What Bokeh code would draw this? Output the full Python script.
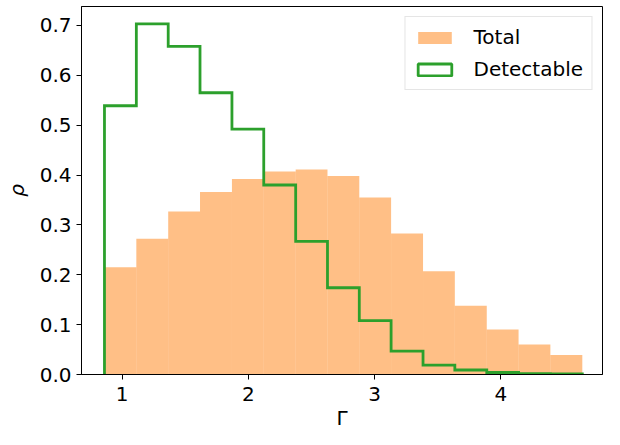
from bokeh.plotting import figure
from bokeh.models import (Legend, LegendItem, FixedTicker, NumeralTickFormatter,
                          ColumnDataSource, Range1d, Title)
from bokeh.embed import file_html
from bokeh.resources import INLINE

# Data
bin_edges = [0.860, 1.1125, 1.365, 1.617, 1.870, 2.122, 2.375, 2.627, 2.879,
             3.131, 3.384, 3.636, 3.889, 4.141, 4.393, 4.646]
total = [0.215, 0.272, 0.327, 0.366, 0.392, 0.407, 0.411, 0.398, 0.355,
         0.283, 0.207, 0.138, 0.090, 0.060, 0.039]
detectable = [0.539, 0.703, 0.658, 0.565, 0.492, 0.380, 0.267, 0.174, 0.108,
              0.047, 0.019, 0.009, 0.004, 0.0015, 0.001]
x_ticks = [1, 2, 3, 4]
y_ticks = [0.0, 0.1, 0.2, 0.3, 0.4, 0.5, 0.6, 0.7]
x_min, x_max = 0.678, 4.806
y_min, y_max = 0.0, 0.738

FONT = "DejaVu Sans"
ORANGE = "#ff7f0e"
GREEN = "#2ca02c"

p = figure(width=604, height=429,
           x_range=Range1d(x_min, x_max), y_range=Range1d(y_min, y_max),
           output_backend="svg", toolbar_location=None,
           min_border_left=81, min_border_right=2, min_border_top=6, min_border_bottom=0)

src = ColumnDataSource(dict(left=bin_edges[:-1], right=bin_edges[1:],
                            top=total, bottom=[0] * len(total)))
r_total = p.quad(left="left", right="right", top="top", bottom="bottom", source=src,
                 fill_color=ORANGE, fill_alpha=0.5, line_color=None)

# step outline for the detectable histogram
xs = [bin_edges[0]]
ys = [0]
for i, v in enumerate(detectable):
    xs += [bin_edges[i], bin_edges[i + 1]]
    ys += [v, v]
xs.append(bin_edges[-1])
ys.append(0)
p.line(xs, ys, line_color=GREEN, line_width=2.8, line_join="miter")

# legend proxy for detectable (not visible in the plot area)
nan = float("nan")
r_det = p.quad(left=[nan], right=[nan], top=[nan], bottom=[nan], fill_color="white",
               line_color=GREEN, line_width=2.8)

legend = Legend(items=[LegendItem(label="Total", renderers=[r_total]),
                       LegendItem(label="Detectable", renderers=[r_det])],
                location="top_right", margin=10, padding=8, spacing=8,
                label_text_font=FONT, label_text_font_size="20px",
                label_text_color="black",
                label_standoff=18, glyph_width=42, glyph_height=15,
                label_height=22,
                border_line_color="#cccccc", border_line_width=1,
                background_fill_alpha=0.8)
p.add_layout(legend)

p.xgrid.visible = False
p.ygrid.visible = False
p.outline_line_color = "black"
p.outline_line_width = 1
p.outline_line_alpha = 1

p.xaxis.ticker = FixedTicker(ticks=x_ticks)
p.yaxis.ticker = FixedTicker(ticks=y_ticks)
p.yaxis.formatter = NumeralTickFormatter(format="0.0")

for ax in (p.xaxis, p.yaxis):
    ax.major_label_text_font = FONT
    ax.major_label_text_font_size = "20px"
    ax.major_label_text_color = "black"
    ax.axis_label_text_font = FONT
    ax.axis_label_text_font_size = "20px"
    ax.axis_label_text_color = "black"
    ax.major_tick_out = 5
    ax.major_tick_in = 0
    ax.minor_tick_out = 0
    ax.minor_tick_in = 0
    ax.axis_line_color = "black"
    ax.major_tick_line_color = "black"
    ax.major_label_standoff = 5

p.xaxis.major_label_standoff = 7

p.add_layout(Title(text="Γ", align="center", text_font=FONT, text_font_size="20px",
                   text_font_style="normal", text_color="black",
                   vertical_align="bottom", standoff=0, offset=0), "below")

p.yaxis.axis_label = "ρ"
p.yaxis.axis_label_text_font_style = "italic"
p.yaxis.axis_label_standoff = 8

open("out.html", "w").write(file_html(p, INLINE))
